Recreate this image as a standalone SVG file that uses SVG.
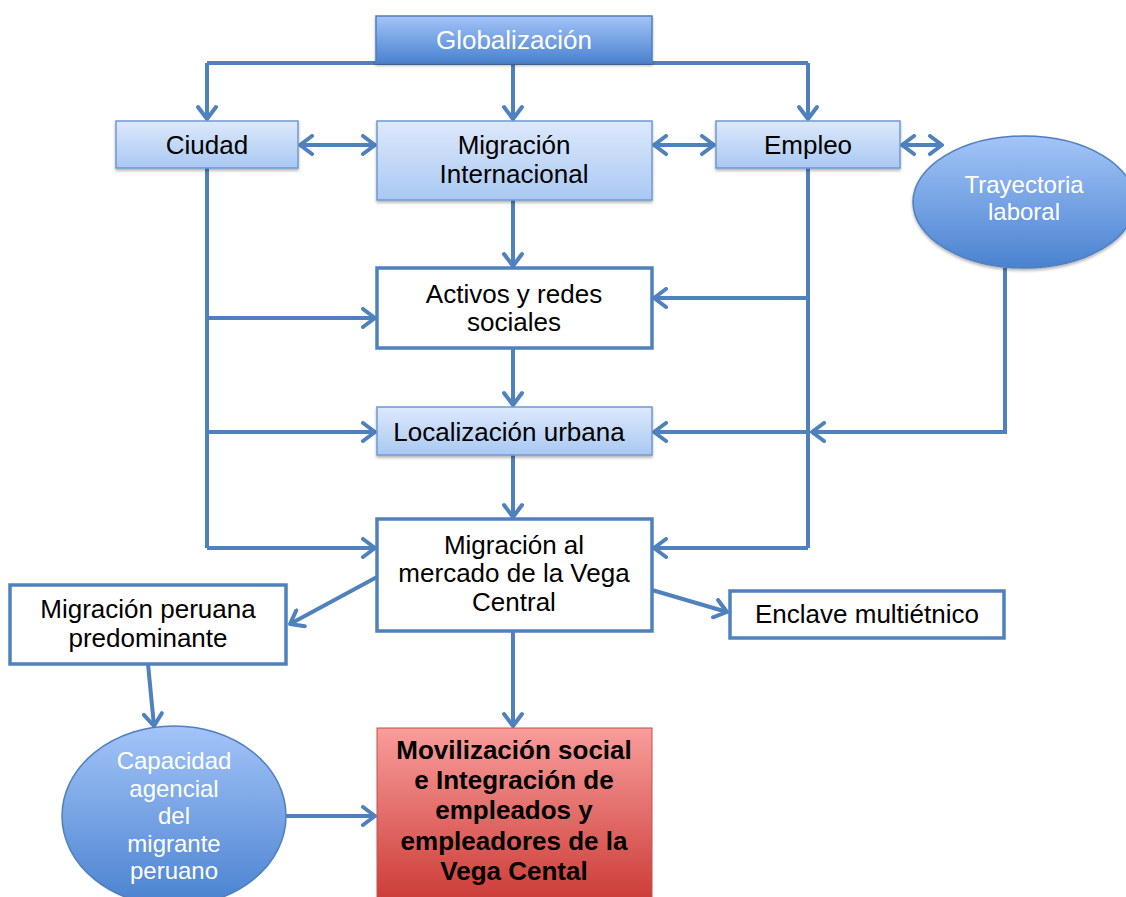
<svg xmlns="http://www.w3.org/2000/svg" width="1126" height="897" viewBox="0 0 1126 897">
<defs>
<linearGradient id="gDark" x1="0" y1="0" x2="0" y2="1"><stop offset="0" stop-color="#a3c4f8"/><stop offset="1" stop-color="#4a82d0"/></linearGradient>
<linearGradient id="gLight" x1="0" y1="0" x2="0" y2="1"><stop offset="0" stop-color="#dde9fc"/><stop offset="1" stop-color="#a9c8f2"/></linearGradient>
<linearGradient id="gRed" x1="0" y1="0" x2="0" y2="1"><stop offset="0" stop-color="#f99d9b"/><stop offset="1" stop-color="#cc3b36"/></linearGradient>
<filter id="sh" x="-10%" y="-10%" width="120%" height="130%"><feDropShadow dx="0" dy="2" stdDeviation="1.5" flood-color="#000" flood-opacity="0.3"/></filter>
<marker id="ah" markerUnits="userSpaceOnUse" markerWidth="18" markerHeight="22" viewBox="0 0 18 22" refX="15" refY="11" orient="auto-start-reverse">
<path d="M3,2 L15,11 L3,20" fill="none" stroke="#4f81bd" stroke-width="4" stroke-linecap="round" stroke-linejoin="round"/>
</marker>
<style>
.t{font-family:"Liberation Sans",Arial,sans-serif;font-size:26px;text-anchor:middle;fill:#000}
.w{fill:#fff}
.e{font-size:24px}
.b{font-weight:bold;font-size:26px}
.dark{fill:url(#gDark);stroke:#4f7fbf;stroke-width:1.5}
.light{fill:url(#gLight);stroke:#6f99d4;stroke-width:1.5}
.white{fill:#fff;stroke:#4f81bd;stroke-width:3.5}
.red{fill:url(#gRed);stroke:#c0504d;stroke-width:1}
.c{fill:none;stroke:#4f81bd;stroke-width:4}
.a{marker-end:url(#ah)}
.d{marker-start:url(#ah);marker-end:url(#ah)}
</style>
</defs>
<g id="connectors">
<path class="c" d="M207,63 H808"/>
<path class="c a" d="M207,63 V119"/>
<path class="c a" d="M513,63 V119"/>
<path class="c a" d="M808,63 V119"/>
<path class="c d" d="M300,145 H375"/>
<path class="c d" d="M654,145 H714"/>
<path class="c d" d="M902,145 H942"/>
<path class="c" d="M207,168 V548"/>
<path class="c a" d="M207,318 H375"/>
<path class="c a" d="M207,432 H375"/>
<path class="c a" d="M207,548 H375"/>
<path class="c" d="M808,168 V548"/>
<path class="c a" d="M808,298 H654"/>
<path class="c a" d="M808,432 H654"/>
<path class="c a" d="M808,548 H654"/>
<path class="c a" d="M1005,268 V432 H812"/>
<path class="c a" d="M513,200 V266"/>
<path class="c a" d="M513,348 V405"/>
<path class="c a" d="M513,455 V517"/>
<path class="c a" d="M513,631 V726"/>
<path class="c a" d="M377,577 L290,624"/>
<path class="c a" d="M652,590 L727,612"/>
<path class="c a" d="M148,664 L154,726"/>
<path class="c a" d="M286,816 L375,816"/>
</g>
<g id="globalizacion">
<rect class="dark" x="376" y="16" width="276" height="47" filter="url(#sh)"/>
<text class="t w" x="514" y="49">Globalización</text>
</g>
<g id="ciudad">
<rect class="light" x="116" y="121" width="182" height="47" filter="url(#sh)"/>
<text class="t" x="207" y="154">Ciudad</text>
</g>
<g id="migracion-internacional">
<rect class="light" x="377" y="121" width="275" height="79" filter="url(#sh)"/>
<text class="t" x="514" y="154">Migración</text>
<text class="t" x="514" y="183">Internacional</text>
</g>
<g id="empleo">
<rect class="light" x="716" y="121" width="184" height="47" filter="url(#sh)"/>
<text class="t" x="808" y="154">Empleo</text>
</g>
<g id="trayectoria">
<ellipse class="dark" cx="1024" cy="202" rx="111" ry="66" filter="url(#sh)"/>
<text class="t w e" x="1024" y="193">Trayectoria</text>
<text class="t w e" x="1024" y="220">laboral</text>
</g>
<g id="activos">
<rect class="white" x="377" y="268" width="275" height="80"/>
<text class="t" x="514" y="303">Activos y redes</text>
<text class="t" x="514" y="331">sociales</text>
</g>
<g id="localizacion">
<rect class="light" x="377" y="407" width="275" height="48" filter="url(#sh)"/>
<text class="t" x="509" y="441">Localización urbana</text>
</g>
<g id="mercado">
<rect class="white" x="377" y="519" width="275" height="112"/>
<text class="t" x="514" y="554">Migración al</text>
<text class="t" x="514" y="582">mercado de la Vega</text>
<text class="t" x="514" y="611">Central</text>
</g>
<g id="peruana">
<rect class="white" x="10" y="585" width="276" height="79"/>
<text class="t" x="148" y="618">Migración peruana</text>
<text class="t" x="148" y="647">predominante</text>
</g>
<g id="enclave">
<rect class="white" x="730" y="591" width="274" height="47"/>
<text class="t" x="867" y="623">Enclave multiétnico</text>
</g>
<g id="capacidad">
<ellipse class="dark" cx="174" cy="816" rx="112" ry="90"/>
<text class="t w e" x="174" y="769">Capacidad</text>
<text class="t w e" x="174" y="797">agencial</text>
<text class="t w e" x="174" y="824">del</text>
<text class="t w e" x="174" y="852">migrante</text>
<text class="t w e" x="174" y="879">peruano</text>
</g>
<g id="movilizacion">
<rect class="red" x="377" y="728" width="275" height="175"/>
<text class="t b" x="514" y="759">Movilización social</text>
<text class="t b" x="514" y="789">e Integración de</text>
<text class="t b" x="514" y="819">empleados y</text>
<text class="t b" x="514" y="850">empleadores de la</text>
<text class="t b" x="514" y="880">Vega Cental</text>
</g>
</svg>
